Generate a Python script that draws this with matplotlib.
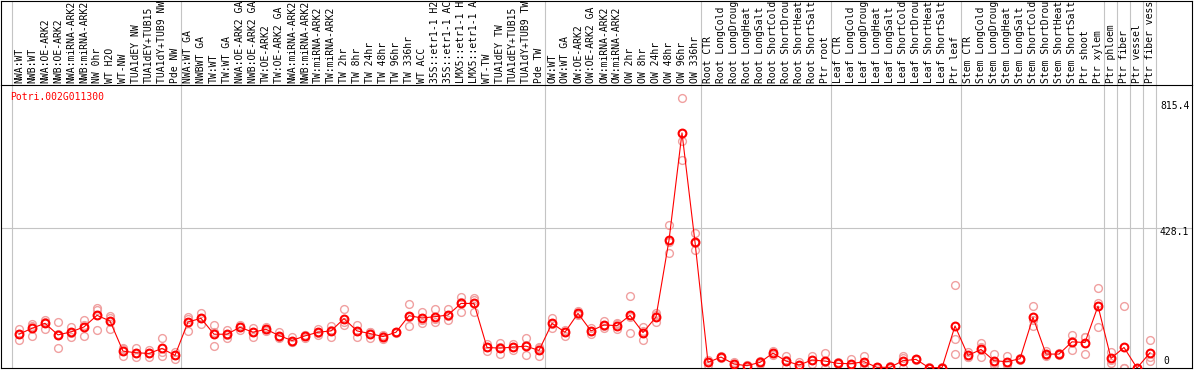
import matplotlib
matplotlib.use("Agg")
import matplotlib.pyplot as plt

# expression profile for one poplar gene across 88 samples (3 replicates each)
GENE = "Potri.002G011300"

samples = [
    "NWA:WT", "NWB:WT", "NWA:OE-ARK2", "NWB:OE-ARK2", "NWA:miRNA-ARK2", "NWB:miRNA-ARK2",
    "NW 0hr", "WT H2O", "WT-NW", "TUA1dEY NW", "TUA1dEY+TUB15", "TUA1dY+TUB9 NW", "Pde NW",
    "NWA:WT GA", "NWBWT GA", "TW:WT", "TW:WT GA", "NWA:OE-ARK2 GA", "NWB:OE-ARK2 GA",
    "TW:OE-ARK2", "TW:OE-ARK2 GA", "NWA:miRNA-ARK2", "NWB:miRNA-ARK2", "TW:miRNA-ARK2",
    "TW:miRNA-ARK2", "TW 2hr", "TW 8hr", "TW 24hr", "TW 48hr", "TW 96hr", "TW 336hr",
    "WT ACC", "35S::etr1-1 H2", "35S::etr1-1 AC", "LMX5::etr1-1 H", "LMX5::etr1-1 A",
    "WT-TW", "TUA1dEY TW", "TUA1dEY+TUB15", "TUA1dY+TUB9 TW", "Pde TW",
    "OW:WT", "OW:WT GA", "OW:OE-ARK2", "OW:OE-ARK2 GA", "OW:miRNA-ARK2", "OW:miRNA-ARK2",
    "OW 2hr", "OW 8hr", "OW 24hr", "OW 48hr", "OW 96hr", "OW 336hr",
    "Root CTR", "Root LongCold", "Root LongDroug", "Root LongHeat", "Root LongSalt",
    "Root ShortCold", "Root ShortDrou", "Root ShortHeat", "Root ShortSalt", "Ptr root",
    "Leaf CTR", "Leaf LongCold", "Leaf LongDroug", "Leaf LongHeat", "Leaf LongSalt",
    "Leaf ShortCold", "Leaf ShortDrou", "Leaf ShortHeat", "Leaf ShortSalt", "Ptr leaf",
    "Stem CTR", "Stem LongCold", "Stem LongDroug", "Stem LongHeat", "Stem LongSalt",
    "Stem ShortCold", "Stem ShortDrou", "Stem ShortHeat", "Stem ShortSalt", "Ptr shoot",
    "Ptr xylem", "Ptr phloem", "Ptr fiber", "Ptr vessel", "Ptr fiber vess",
]

means = [
    102, 120, 135, 100, 109, 124, 159, 142, 51, 46, 44, 59, 38,
    139, 150, 102, 102, 123, 108, 117, 98, 83, 97, 108, 112, 149, 112, 104, 95, 108, 158,
    151, 155, 160, 195, 195, 62, 60, 63, 66, 53,
    135, 108, 165, 112, 130, 128, 159, 107, 154, 386, 710, 380,
    17, 33, 12, 7, 17, 45, 21, 9, 24, 21,
    14, 13, 19, 2, 2, 22, 26, 1, 1, 127,
    38, 56, 22, 19, 28, 153, 42, 42, 79, 77,
    187, 29, 62, 0, 46,
]

rep_a = [
    118, 132, 145, 138, 125, 145, 182, 156, 59, 59, 53, 92, 49,
    155, 167, 130, 115, 130, 122, 124, 110, 93, 101, 117, 128, 177, 130, 110, 100, 110, 193,
    170, 178, 177, 215, 210, 72, 75, 72, 90, 64,
    152, 116, 172, 120, 142, 132, 217, 125, 165, 432, 815.4, 407,
    24, 36, 17, 10, 21, 51, 35, 17, 37, 44,
    17, 27, 37, 4, 6, 36, 28, 2, 2, 251,
    49, 75, 42, 36, 31, 187, 52, 44, 100, 95,
    241, 49, 186, 0, 85,
]
rep_b = [
    103, 128, 140, 103, 105, 129, 174, 150, 56, 45, 45, 48, 38,
    149, 150, 110, 100, 123, 109, 117, 94, 78, 99, 107, 115, 140, 111, 110, 97, 108, 153,
    146, 149, 157, 200, 205, 62, 64, 62, 70, 59,
    133, 110, 163, 112, 126, 135, 155, 111, 160, 380, 687, 377,
    18, 34, 12, 9, 19, 45, 24, 9, 23, 19,
    14, 8, 16, 1, 1, 30, 26, 1, 1, 87,
    33, 62, 14, 12, 28, 145, 38, 42, 83, 94,
    195, 24, 0, 0, 32,
]
rep_c = [
    85, 98, 117, 59, 95, 98, 115, 117, 36, 34, 34, 37, 27,
    113, 133, 66, 92, 116, 93, 111, 90, 78, 91, 100, 93, 130, 95, 92, 88, 106, 128,
    137, 138, 146, 170, 170, 52, 41, 55, 39, 36,
    120, 98, 160, 104, 122, 117, 105, 85, 138, 346, 628, 356,
    9, 29, 7, 1, 11, 39, 4, 1, 12, 0,
    11, 4, 4, 1, 0, 0, 24, 0, 0, 42,
    32, 32, 10, 9, 25, 127, 36, 40, 54, 42,
    125, 14, 0, 0, 22,
]

# last sample index of each block (a grey rule is drawn after it)
block_ends = [-1, 12, 40, 52, 62, 72, 83, 84, 85, 86, 87]
tick_values = [0, 428.1, 815.4]

W, H = 1194, 370
RED = "#ff0000"
PINK = "#f0a0a0"
SEP = "#c4c4c4"
MONO = "DejaVu Sans Mono"

# pixel layout of the original page
x0, step = 19, 13            # centre of first sample, spacing
left_px, right_px = 1, 1192
band_px, bottom_px = 85, 368
ppu = 270 / 815.4            # pixels per expression unit
ymax = (bottom_px - band_px) / ppu

fig = plt.figure(figsize=(W / 100, H / 100), dpi=100)
ax = fig.add_axes([left_px / W, (H - bottom_px) / H,
                   (right_px - left_px) / W, (bottom_px - band_px) / H])
band = fig.add_axes([left_px / W, (H - band_px) / H,
                     (right_px - left_px) / W, (band_px - 0.5) / H])

xlim = ((left_px - x0) / step, (right_px - x0) / step)
for a in (ax, band):
    a.set_xlim(*xlim)
    a.set_xticks([])
    a.set_yticks([])
    for s in a.spines.values():
        s.set_color("black")
        s.set_linewidth(0.8)
    for b in block_ends:
        a.axvline(b + 0.45, color=SEP, lw=0.8, zorder=0)
ax.spines["top"].set_visible(False)
band.set_ylim(0, 1)
ax.set_ylim(0, ymax)

xs = list(range(len(samples)))
ax.axhline(tick_values[1] - 2 / ppu, color=SEP, lw=0.8, zorder=0)

for reps in (rep_a, rep_b, rep_c):
    ax.plot(xs, reps, ls="none", marker="o", ms=5.6, mfc="none", mec=PINK, mew=1.0,
            zorder=2)
ax.plot(xs, means, color=RED, lw=0.8, marker="o", ms=5.6, mfc="none", mec=RED,
        mew=1.5, zorder=3)

for i, name in enumerate(samples):
    band.text(i, 2 / band_px, name, rotation=90, ha="center", va="bottom",
              fontsize=7, family=MONO, color="black", clip_on=True)

ax.text((10 - x0) / step, ymax - 12 / ppu, GENE, color=RED, fontsize=7,
        family=MONO, ha="left", va="center")

lx = (1160 - x0) / step
ax.text(lx, tick_values[2] - 3 / ppu, f"{tick_values[2]}", fontsize=7,
        family=MONO, ha="left", va="top")
ax.text(lx, tick_values[1] - 1 / ppu, f"{tick_values[1]}", fontsize=7,
        family=MONO, ha="left", va="top")
ax.text((1163 - x0) / step, tick_values[0] + 2 / ppu, f"{tick_values[0]}",
        fontsize=7, family=MONO, ha="left", va="bottom")

fig.savefig("out.png", dpi=100)
